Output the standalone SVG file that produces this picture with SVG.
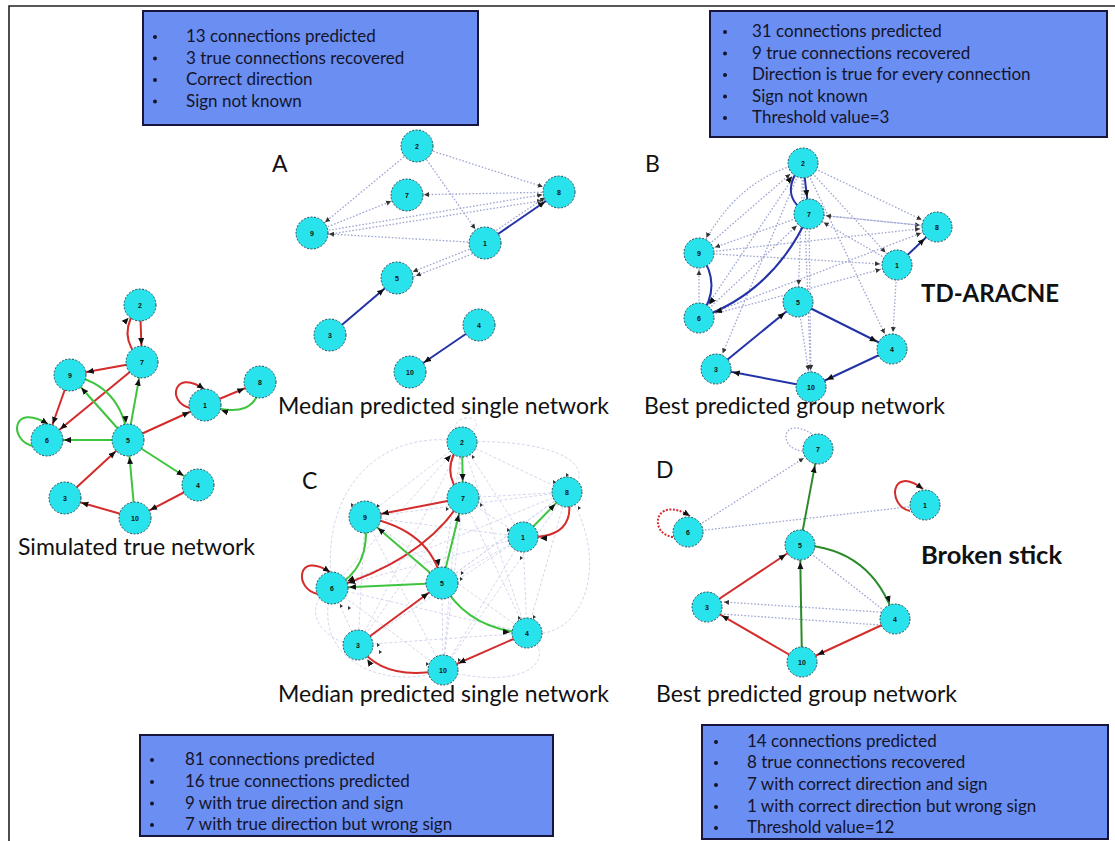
<svg xmlns="http://www.w3.org/2000/svg" width="1115" height="841" viewBox="0 0 1115 841">
  <style>
    .frame { stroke: #222; stroke-width: 1.6; fill: none; }
    .box { fill: #6b8ef2; stroke: #15153d; stroke-width: 2; }
    .bt { font-family: Lato, "Liberation Sans", sans-serif; font-size: 17px; fill: #14142a; }
    .bul { fill: #14142a; }
    .lab { font-family: Lato, "Liberation Sans", sans-serif; font-size: 23px; fill: #111; }
    .big { font-family: Lato, "Liberation Sans", sans-serif; font-size: 24px; font-weight: bold; fill: #111; }
    .node circle { fill: #28e3eb; stroke: #2f4a55; stroke-width: 1; stroke-dasharray: 2 1.5; }
    .node text { font-family: "Liberation Sans", Arial, sans-serif; font-size: 7px; font-weight: bold; fill: #111; text-anchor: middle; dominant-baseline: central; }
    .e { fill: none; stroke-width: 2; }
    .r { stroke: #d42b2b; }
    .g { stroke: #3ec43e; }
    .dg { stroke: #2a8a2a; }
    .b { stroke: #2432a8; }
    .d { fill: none; stroke: #9ea6d2; stroke-width: 1.3; stroke-dasharray: 1.6 1.8; }
    .f { fill: none; stroke: #cfd3ea; stroke-width: 0.9; stroke-dasharray: 3 2; }
    .rd { stroke-dasharray: 2 1.5; }
  </style>
  <defs>
    <!-- arrowheads whose tip sits on the rim of a r=16 node when the path ends at its centre -->
    <marker id="a" markerUnits="userSpaceOnUse" markerWidth="26" markerHeight="10" viewBox="0 0 26 10" refX="24" refY="5" orient="auto">
      <path d="M0,2 L7,5 L0,8 z" fill="#111"/>
    </marker>
    <marker id="s" markerUnits="userSpaceOnUse" markerWidth="24" markerHeight="8" viewBox="0 0 24 8" refX="22" refY="4" orient="auto">
      <path d="M0,1.5 L5,4 L0,6.5 z" fill="#333"/>
    </marker>
    <!-- arrowhead placed exactly at the path end (self loops) -->
    <marker id="l" markerUnits="userSpaceOnUse" markerWidth="8" markerHeight="8" viewBox="0 0 8 8" refX="7" refY="4" orient="auto">
      <path d="M0,1 L7,4 L0,7 z" fill="#111"/>
    </marker>
  </defs>

  <rect width="1115" height="841" fill="#fff"/>
  <path class="frame" d="M9,841 L9,6 L1115,6"/>

  <!-- summary boxes -->
  <g id="box-a">
    <rect class="box" x="143" y="11" width="335" height="114"/>
    <g class="bul"><circle cx="155" cy="37" r="2"/><circle cx="155" cy="58.5" r="2"/><circle cx="155" cy="80" r="2"/><circle cx="155" cy="101.5" r="2"/></g>
    <text class="bt" x="186" y="42">13 connections predicted</text>
    <text class="bt" x="186" y="63.5">3 true connections recovered</text>
    <text class="bt" x="186" y="85">Correct direction</text>
    <text class="bt" x="186" y="106.5">Sign not known</text>
  </g>
  <g id="box-b">
    <rect class="box" x="710" y="11" width="397" height="126"/>
    <g class="bul"><circle cx="725" cy="32" r="2"/><circle cx="725" cy="53.5" r="2"/><circle cx="725" cy="75" r="2"/><circle cx="725" cy="96.5" r="2"/><circle cx="725" cy="118" r="2"/></g>
    <text class="bt" x="752" y="37">31 connections predicted</text>
    <text class="bt" x="752" y="58.5">9 true connections recovered</text>
    <text class="bt" x="752" y="80">Direction is true for every connection</text>
    <text class="bt" x="752" y="101.5">Sign not known</text>
    <text class="bt" x="752" y="123">Threshold value=3</text>
  </g>
  <g id="box-c">
    <rect class="box" x="140" y="735" width="413" height="101"/>
    <g class="bul"><circle cx="152" cy="760" r="2"/><circle cx="152" cy="782" r="2"/><circle cx="152" cy="803.5" r="2"/><circle cx="152" cy="825" r="2"/></g>
    <text class="bt" x="185" y="765">81 connections predicted</text>
    <text class="bt" x="185" y="787">16 true connections predicted</text>
    <text class="bt" x="185" y="808.5">9 with true direction and sign</text>
    <text class="bt" x="185" y="830">7 with true direction but wrong sign</text>
  </g>
  <g id="box-d">
    <rect class="box" x="702" y="725" width="406" height="114"/>
    <g class="bul"><circle cx="716" cy="742" r="2"/><circle cx="716" cy="763" r="2"/><circle cx="716" cy="785" r="2"/><circle cx="716" cy="807" r="2"/><circle cx="716" cy="828" r="2"/></g>
    <text class="bt" x="747" y="747">14 connections predicted</text>
    <text class="bt" x="747" y="768">8 true connections recovered</text>
    <text class="bt" x="747" y="790">7 with correct direction and sign</text>
    <text class="bt" x="747" y="812">1 with correct direction but wrong sign</text>
    <text class="bt" x="747" y="833">Threshold value=12</text>
  </g>

  <!-- panel letters and captions -->
  <g id="labels">
    <text class="lab" x="272" y="172">A</text>
    <text class="lab" x="645" y="172">B</text>
    <text class="lab" x="302" y="489">C</text>
    <text class="lab" x="656" y="478">D</text>
    <text class="big" x="921" y="302">TD-ARACNE</text>
    <text class="big" x="921" y="564" style="font-size:25.5px">Broken stick</text>
    <text class="lab" x="18" y="555">Simulated true network</text>
    <text class="lab" x="278" y="414">Median predicted single network</text>
    <text class="lab" x="644" y="414">Best predicted group network</text>
    <text class="lab" x="278" y="702">Median predicted single network</text>
    <text class="lab" x="656" y="702">Best predicted group network</text>
  </g>

  <!-- connectors -->
  <g id="connectors">
    <!-- simulated true network -->
    <g id="sim-edges">
      <path class="e r" d="M140,305 L142,362" marker-end="url(#a)"/>
      <path class="e r" d="M142,362 Q114,334 140,305" marker-end="url(#a)"/>
      <path class="e r" d="M142,362 L70,375" marker-end="url(#a)"/>
      <path class="e r" d="M142,362 L47,440" marker-end="url(#a)"/>
      <path class="e r" d="M70,375 L47,440" marker-end="url(#a)"/>
      <path class="e g" d="M70,375 Q122,385 128,440" marker-end="url(#a)"/>
      <path class="e g" d="M128,440 L70,375" marker-end="url(#a)"/>
      <path class="e g" d="M128,440 L142,362" marker-end="url(#a)"/>
      <path class="e g" d="M33,446 C8,440 12,402 48,424" marker-end="url(#l)"/>
      <path class="e g" d="M128,440 L47,440" marker-end="url(#a)"/>
      <path class="e r" d="M128,440 L205,405" marker-end="url(#a)"/>
      <path class="e r" d="M190,408 C166,402 174,368 204,389" marker-end="url(#l)"/>
      <path class="e r" d="M205,405 L260,382" marker-end="url(#a)"/>
      <path class="e g" d="M260,382 Q258,422 205,405" marker-end="url(#a)"/>
      <path class="e g" d="M128,440 L198,485" marker-end="url(#a)"/>
      <path class="e r" d="M65,498 L128,440" marker-end="url(#a)"/>
      <path class="e g" d="M135,518 L128,440" marker-end="url(#a)"/>
      <path class="e r" d="M135,518 L65,498" marker-end="url(#a)"/>
      <path class="e r" d="M198,485 L135,518" marker-end="url(#a)"/>
    </g>

    <!-- panel A -->
    <g id="a-edges">
      <path class="d" d="M417,146 L312,233" marker-end="url(#s)"/>
      <path class="d" d="M417,146 L559,192" marker-end="url(#s)"/>
      <path class="d" d="M417,146 L485,243" marker-end="url(#s)"/>
      <path class="d" d="M559,192 L407,195" marker-end="url(#s)"/>
      <path class="d" d="M312,233 L407,195" marker-end="url(#s)"/>
      <path class="d" d="M312,233 L559,192" marker-end="url(#s)"/>
      <path class="d" d="M312,237 L559,198" marker-end="url(#s)"/>
      <path class="d" d="M485,243 L312,233" marker-end="url(#s)"/>
      <path class="d" d="M485,238 L559,188" marker-end="url(#s)"/>
      <path class="d" d="M485,243 L397,278" marker-end="url(#s)"/>
      <path class="d" d="M485,249 L400,282" marker-end="url(#s)"/>
      <path class="e b" d="M485,243 L559,192" marker-end="url(#a)"/>
      <path class="e b" d="M330,335 L397,278" marker-end="url(#a)"/>
      <path class="e b" d="M479,325 L410,372" marker-end="url(#a)"/>
    </g>

    <!-- panel B -->
    <g id="b-edges">
      <path class="d" d="M803,163 Q735,178 699,253" marker-end="url(#s)"/>
      <path class="d" d="M803,163 L699,318" marker-end="url(#s)"/>
      <path class="d" d="M803,163 L716,369" marker-end="url(#s)"/>
      <path class="d" d="M803,163 L811,387" marker-end="url(#s)"/>
      <path class="d" d="M803,163 L892,349" marker-end="url(#s)"/>
      <path class="d" d="M803,163 L937,227" marker-end="url(#s)"/>
      <path class="d" d="M803,163 L897,265" marker-end="url(#s)"/>
      <path class="d" d="M809,214 L699,253" marker-end="url(#s)"/>
      <path class="d" d="M809,214 L937,227" marker-end="url(#s)"/>
      <path class="d" d="M897,265 L809,214" marker-end="url(#s)"/>
      <path class="d" d="M699,253 L937,227" marker-end="url(#s)"/>
      <path class="d" d="M699,253 L897,265" marker-end="url(#s)"/>
      <path class="d" d="M699,318 L937,227" marker-end="url(#s)"/>
      <path class="d" d="M699,318 L897,265" marker-end="url(#s)"/>
      <path class="d" d="M699,318 L699,253" marker-end="url(#s)"/>
      <path class="d" d="M897,265 L892,349" marker-end="url(#s)"/>
      <path class="d" d="M798,302 L811,387" marker-end="url(#s)"/>
      <path class="d" d="M809,214 L811,387" marker-end="url(#s)"/>
      <path class="d" d="M699,318 L809,214" marker-end="url(#s)"/>
      <path class="d" d="M937,227 L809,214" marker-end="url(#s)"/>
      <path class="d" d="M803,163 L798,302" marker-end="url(#s)"/>
      <path class="d" d="M699,253 L803,163" marker-end="url(#s)"/>
      <path class="e b" d="M803,163 L809,214" marker-end="url(#a)"/>
      <path class="e b" d="M809,214 Q776,196 803,163" marker-end="url(#a)"/>
      <path class="e b" d="M809,214 Q774,292 699,318" marker-end="url(#a)"/>
      <path class="e b" d="M699,253 Q724,285 699,318" marker-end="url(#a)"/>
      <path class="e b" d="M897,265 L937,227" marker-end="url(#a)"/>
      <path class="e b" d="M798,302 L892,349" marker-end="url(#a)"/>
      <path class="e b" d="M716,369 L798,302" marker-end="url(#a)"/>
      <path class="e b" d="M892,349 L811,387" marker-end="url(#a)"/>
      <path class="e b" d="M811,387 L716,369" marker-end="url(#a)"/>
    </g>

    <!-- panel C: faint background connections -->
    <g id="c-faint">
      <path class="f" d="M462,442 L365,517 M462,442 L567,492 M462,442 L523,537 M462,442 L332,588 M462,442 L442,583 M462,442 L527,633 M462,442 L358,645 M462,442 L443,670"/>
      <path class="f" d="M463,498 L567,492 M463,498 L523,537 M463,498 L527,633 M463,498 L358,645 M463,498 L443,670"/>
      <path class="f" d="M567,492 L365,517 M567,492 L332,588 M567,492 L442,583 M567,492 L527,633 M567,492 L358,645 M567,492 L443,670"/>
      <path class="f" d="M365,517 L523,537 M365,517 L527,633 M365,517 L358,645 M365,517 L443,670"/>
      <path class="f" d="M523,537 L332,588 M523,537 L442,583 M523,537 L527,633 M523,537 L358,645 M523,537 L443,670"/>
      <path class="f" d="M332,588 L527,633 M332,588 L358,645 M332,588 L443,670"/>
      <path class="f" d="M442,583 L358,645 M442,583 L443,670 M527,633 L358,645"/>
      <path class="f" d="M462,442 C390,428 318,480 332,588 M462,442 C560,438 602,468 567,492 M567,492 C612,560 585,642 527,633 M358,645 C318,642 300,604 332,588 M443,670 C520,692 562,662 527,633 M332,588 C308,662 390,692 443,670 M462,442 C436,414 492,410 472,432"/>
      <g fill="#333">
        <path d="M455,430 l3,2 l-3,2 z M472,455 l3,2 l-3,2 z M446,507 l3,2 l-3,2 z M480,503 l3,2 l-3,2 z M351,503 l3,2 l-3,2 z M377,504 l3,2 l-3,2 z M553,480 l3,2 l-3,2 z M578,506 l3,2 l-3,2 z M507,528 l3,2 l-3,2 z M520,556 l3,2 l-3,2 z M348,606 l3,2 l-3,2 z M340,604 l3,2 l-3,2 z M461,571 l3,2 l-3,2 z M460,577 l3,2 l-3,2 z M518,616 l3,2 l-3,2 z M533,615 l3,2 l-3,2 z M377,643 l3,2 l-3,2 z M379,650 l3,2 l-3,2 z M426,662 l3,2 l-3,2 z M458,658 l3,2 l-3,2 z M566,473 l3,2 l-3,2 z"/>
      </g>
    </g>
    <g id="c-edges">
      <path class="e g" d="M462,442 L463,498" marker-end="url(#a)"/>
      <path class="e r" d="M463,498 Q438,470 462,442" marker-end="url(#a)"/>
      <path class="e r" d="M463,498 L365,517" marker-end="url(#a)"/>
      <path class="e r" d="M463,498 Q425,560 332,588" marker-end="url(#a)"/>
      <path class="e r" d="M365,517 Q432,530 442,583" marker-end="url(#a)"/>
      <path class="e g" d="M442,583 L365,517" marker-end="url(#a)"/>
      <path class="e g" d="M365,517 Q372,570 332,588" marker-end="url(#a)"/>
      <path class="e g" d="M442,583 L332,588" marker-end="url(#a)"/>
      <path class="e g" d="M442,583 L463,498" marker-end="url(#a)"/>
      <path class="e r" d="M318,594 C294,590 296,550 330,572" marker-end="url(#l)"/>
      <path class="e g" d="M523,537 L567,492" marker-end="url(#a)"/>
      <path class="e r" d="M567,492 Q580,540 523,537" marker-end="url(#a)"/>
      <path class="e g" d="M442,583 Q468,630 527,633" marker-end="url(#a)"/>
      <path class="e r" d="M358,645 L442,583" marker-end="url(#a)"/>
      <path class="e r" d="M527,633 L443,670" marker-end="url(#a)"/>
      <path class="e r" d="M443,670 Q382,682 358,645" marker-end="url(#a)"/>
    </g>

    <!-- panel D -->
    <g id="d-edges">
      <path class="d" d="M803,451 C778,450 780,414 812,434"/>
      <path class="d" d="M688,532 L818,449" marker-end="url(#s)"/>
      <path class="d" d="M688,532 L925,505"/>
      <path class="d" d="M800,545 L895,619"/>
      <path class="d" d="M895,613 L707,601" marker-end="url(#s)"/>
      <path class="d" d="M707,613 L895,626"/>
      <path class="e dg" d="M800,545 L818,449" marker-end="url(#a)"/>
      <path class="e dg" d="M800,545 Q872,548 895,619" marker-end="url(#a)"/>
      <path class="e dg" d="M802,662 L800,545" marker-end="url(#a)"/>
      <path class="e r" d="M707,607 L800,545" marker-end="url(#a)"/>
      <path class="e r" d="M802,662 L707,607" marker-end="url(#a)"/>
      <path class="e r" d="M895,619 L802,662" marker-end="url(#a)"/>
      <path class="e r rd" d="M673,537 C648,534 654,494 690,516" marker-end="url(#l)"/>
      <path class="e r" d="M910,511 C887,506 890,464 923,489" marker-end="url(#l)"/>
    </g>
  </g>

  <!-- nodes: simulated true network -->
  <g id="sim-n2" class="node"><circle cx="140" cy="305" r="16"/><text x="140" y="305">2</text></g>
  <g id="sim-n7" class="node"><circle cx="142" cy="362" r="16"/><text x="142" y="362">7</text></g>
  <g id="sim-n9" class="node"><circle cx="70" cy="375" r="16"/><text x="70" y="375">9</text></g>
  <g id="sim-n1" class="node"><circle cx="205" cy="405" r="16"/><text x="205" y="405">1</text></g>
  <g id="sim-n8" class="node"><circle cx="260" cy="382" r="16"/><text x="260" y="382">8</text></g>
  <g id="sim-n6" class="node"><circle cx="47" cy="440" r="16"/><text x="47" y="440">6</text></g>
  <g id="sim-n5" class="node"><circle cx="128" cy="440" r="16"/><text x="128" y="440">5</text></g>
  <g id="sim-n4" class="node"><circle cx="198" cy="485" r="16"/><text x="198" y="485">4</text></g>
  <g id="sim-n3" class="node"><circle cx="65" cy="498" r="16"/><text x="65" y="498">3</text></g>
  <g id="sim-n10" class="node"><circle cx="135" cy="518" r="16"/><text x="135" y="518">10</text></g>

  <!-- nodes: panel A -->
  <g id="a-n2" class="node"><circle cx="417" cy="146" r="16"/><text x="417" y="146">2</text></g>
  <g id="a-n7" class="node"><circle cx="407" cy="195" r="16"/><text x="407" y="195">7</text></g>
  <g id="a-n8" class="node"><circle cx="559" cy="192" r="16"/><text x="559" y="192">8</text></g>
  <g id="a-n9" class="node"><circle cx="312" cy="233" r="16"/><text x="312" y="233">9</text></g>
  <g id="a-n1" class="node"><circle cx="485" cy="243" r="16"/><text x="485" y="243">1</text></g>
  <g id="a-n5" class="node"><circle cx="397" cy="278" r="16"/><text x="397" y="278">5</text></g>
  <g id="a-n3" class="node"><circle cx="330" cy="335" r="16"/><text x="330" y="335">3</text></g>
  <g id="a-n4" class="node"><circle cx="479" cy="325" r="16"/><text x="479" y="325">4</text></g>
  <g id="a-n10" class="node"><circle cx="410" cy="372" r="16"/><text x="410" y="372">10</text></g>

  <!-- nodes: panel B -->
  <g id="b-n2" class="node"><circle cx="803" cy="163" r="15"/><text x="803" y="163">2</text></g>
  <g id="b-n7" class="node"><circle cx="809" cy="214" r="15"/><text x="809" y="214">7</text></g>
  <g id="b-n8" class="node"><circle cx="937" cy="227" r="15"/><text x="937" y="227">8</text></g>
  <g id="b-n9" class="node"><circle cx="699" cy="253" r="15"/><text x="699" y="253">9</text></g>
  <g id="b-n1" class="node"><circle cx="897" cy="265" r="15"/><text x="897" y="265">1</text></g>
  <g id="b-n6" class="node"><circle cx="699" cy="318" r="15"/><text x="699" y="318">6</text></g>
  <g id="b-n5" class="node"><circle cx="798" cy="302" r="15"/><text x="798" y="302">5</text></g>
  <g id="b-n4" class="node"><circle cx="892" cy="349" r="15"/><text x="892" y="349">4</text></g>
  <g id="b-n3" class="node"><circle cx="716" cy="369" r="15"/><text x="716" y="369">3</text></g>
  <g id="b-n10" class="node"><circle cx="811" cy="387" r="15"/><text x="811" y="387">10</text></g>

  <!-- nodes: panel C -->
  <g id="c-n2" class="node"><circle cx="462" cy="442" r="15"/><text x="462" y="442">2</text></g>
  <g id="c-n7" class="node"><circle cx="463" cy="498" r="16"/><text x="463" y="498">7</text></g>
  <g id="c-n8" class="node"><circle cx="567" cy="492" r="15"/><text x="567" y="492">8</text></g>
  <g id="c-n9" class="node"><circle cx="365" cy="517" r="16"/><text x="365" y="517">9</text></g>
  <g id="c-n1" class="node"><circle cx="523" cy="537" r="15"/><text x="523" y="537">1</text></g>
  <g id="c-n6" class="node"><circle cx="332" cy="588" r="16"/><text x="332" y="588">6</text></g>
  <g id="c-n5" class="node"><circle cx="442" cy="583" r="16"/><text x="442" y="583">5</text></g>
  <g id="c-n4" class="node"><circle cx="527" cy="633" r="15"/><text x="527" y="633">4</text></g>
  <g id="c-n3" class="node"><circle cx="358" cy="645" r="15"/><text x="358" y="645">3</text></g>
  <g id="c-n10" class="node"><circle cx="443" cy="670" r="15"/><text x="443" y="670">10</text></g>

  <!-- nodes: panel D -->
  <g id="d-n7" class="node"><circle cx="818" cy="449" r="15"/><text x="818" y="449">7</text></g>
  <g id="d-n6" class="node"><circle cx="688" cy="532" r="15"/><text x="688" y="532">6</text></g>
  <g id="d-n1" class="node"><circle cx="925" cy="505" r="15"/><text x="925" y="505">1</text></g>
  <g id="d-n5" class="node"><circle cx="800" cy="545" r="15"/><text x="800" y="545">5</text></g>
  <g id="d-n3" class="node"><circle cx="707" cy="607" r="15"/><text x="707" y="607">3</text></g>
  <g id="d-n4" class="node"><circle cx="895" cy="619" r="15"/><text x="895" y="619">4</text></g>
  <g id="d-n10" class="node"><circle cx="802" cy="662" r="15"/><text x="802" y="662">10</text></g>
</svg>
